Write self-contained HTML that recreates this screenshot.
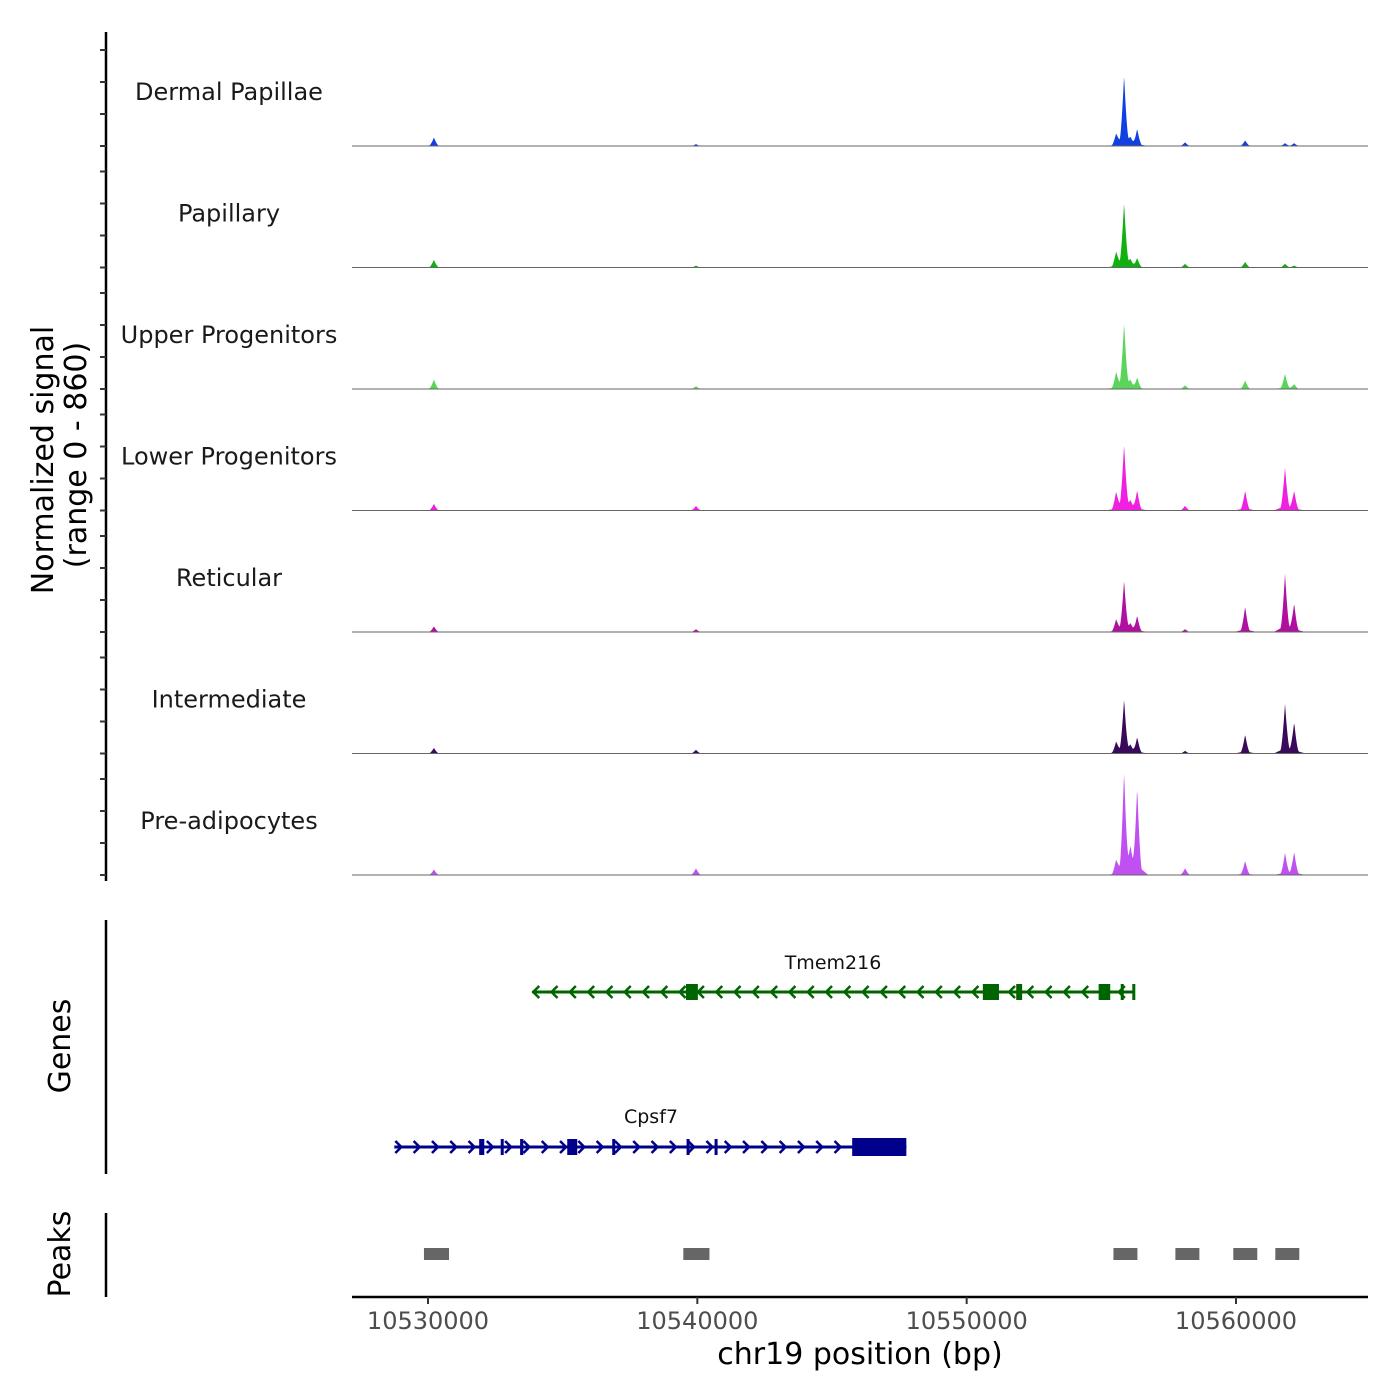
<!DOCTYPE html>
<html><head><meta charset="utf-8"><style>
html,body{margin:0;padding:0;background:#fff}
svg{display:block;font-family:"DejaVu Sans","Liberation Sans",sans-serif}
</style></head><body>
<svg id="chart" width="1400" height="1400" viewBox="0 0 1400 1400" xmlns="http://www.w3.org/2000/svg">
<g id="signal"></g>
<g id="genes"></g>
<g id="peaks"></g>
<g id="axes"></g>
</svg>
<script>
const trackNames = ["Dermal Papillae","Papillary","Upper Progenitors","Lower Progenitors","Reticular","Intermediate","Pre-adipocytes"];
const trackColors = ["#1040e0","#10b010","#5ad45a","#f020e0","#b010a0","#3a0a5a","#c050f0"];
const peakPositions = [10530220,10539950,10555550,10555845,10556080,10556330,10558110,10560340,10561820,10562160];
// heights (normalized units) per track at each peak position
const dermalValues = [64,14,78,524,40,127,28,42,21,21];
const papillaryValues = [57,14,106,481,40,70,28,42,28,14];
const upperValues = [71,21,113,489,45,85,28,64,113,35];
const lowerValues = [50,35,127,489,50,149,35,149,319,142];
const reticularValues = [42,21,85,382,45,120,21,191,432,205];
const intermediateValues = [42,28,78,403,45,120,20,142,368,227];
const preadipoValues = [42,50,92,765,156,651,50,106,163,170];
const seriesValues = [dermalValues,papillaryValues,upperValues,lowerValues,reticularValues,intermediateValues,preadipoValues];
const yMax = 860;
const xTicks = [10530000,10540000,10550000,10560000];
const peakRegions = [[10529850,10530780],[10539480,10540450],[10555450,10556340],[10557750,10558640],[10559900,10560790],[10561460,10562350]];
const tmemExons = [[10539580,10540020],[10550600,10551200],[10551840,10552060],[10554900,10555330],[10555720,10555780],[10556150,10556210]];
const tmemSpan = [10533870,10556210];
const cpsfExons = [[10531900,10532090],[10532700,10532780],[10533420,10533540],[10535170,10535540],[10536840,10536920],[10539600,10539680],[10540640,10540720],[10545750,10547760]];
const cpsfSpan = [10528750,10547760];

const NS="http://www.w3.org/2000/svg";
const X0=352,X1=1368;
const x=bp=>428+(bp-10530000)*808/30000;
const bpAt=px=>10530000+(px-428)*30000/808;
const trackH=121.5, base0=146;
const ySig=(v,i)=>base0+i*trackH - v/yMax*trackH;
function el(tag,attrs,parent,text){const e=document.createElementNS(NS,tag);for(const k in attrs)e.setAttribute(k,attrs[k]);if(text!==undefined)e.textContent=text;parent.appendChild(e);return e;}

const sg=document.getElementById('signal');
seriesValues.forEach((vals,i)=>{
  const b=base0+i*trackH;
  let d=`M${X0},${b}`;
  for(let px=X0;px<=X1;px+=0.5){
    const bp=bpAt(px);let s=0;
    peakPositions.forEach((p,j)=>{
      const v=vals[j];
      const t=1-Math.abs(bp-p)/170; if(t>0)s+=v*0.85*Math.pow(t,1.5);
      const u=1-Math.abs(bp-p)/420; if(u>0)s+=v*0.1*u;
    });
    d+=`L${px},${ySig(Math.min(s,yMax),i)}`;
  }
  d+=`L${X1},${b}Z`;
  const p=el('path',{d,fill:trackColors[i]},sg);
  
  
  const l=el('line',{x1:X0,x2:X1,y1:b,y2:b,stroke:'#666','stroke-width':1},sg);
  
  
  const t=el('text',{x:229,y:b-46,'text-anchor':'middle','font-size':24,fill:'#1a1a1a'},sg,trackNames[i]);
  
  
});

const gg=document.getElementById('genes');
function gene(span,exons,y,color,dir,name,labelY,labelX,bigIdx){
  const g=el('g',{},gg);
  
  
  el('line',{x1:x(span[0]),x2:x(span[1]),y1:y,y2:y,stroke:color,'stroke-width':3},g);
  for(let px=x(span[0])+4;px<x(span[1])-4;px+=18.3){
    const a=dir>0?`M${px-3},${y-6}L${px+3},${y}L${px-3},${y+6}`:`M${px+3},${y-6}L${px-3},${y}L${px+3},${y+6}`;
    el('path',{d:a,stroke:color,'stroke-width':2.5,fill:'none'},g);
  }
  exons.forEach((e,k)=>{const h=k===bigIdx?18:16;const w=Math.max(3,x(e[1])-x(e[0]));el('rect',{x:x(e[0]),y:y-h/2,width:w,height:h,fill:color},g);});
  el('text',{x:labelX,y:labelY,'text-anchor':'middle','font-size':19,fill:'#111'},g,name);
}
gene(tmemSpan,tmemExons,992,'#006400',-1,'Tmem216',969,833,-1);
gene(cpsfSpan,cpsfExons,1147,'#00008b',1,'Cpsf7',1123,651,7);

const pg=document.getElementById('peaks');
peakRegions.forEach(r=>{
  const rc=el('rect',{x:x(r[0]),y:1248,width:x(r[1])-x(r[0]),height:12,fill:'#666'},pg);
  
  
});

const ax=document.getElementById('axes');
el('line',{x1:106,x2:106,y1:32,y2:881,stroke:'#000','stroke-width':2.5},ax);
for(let i=0;i<7;i++)for(let k=0;k<4;k++){const y=base0+i*trackH-k*32;el('line',{x1:100,x2:106,y1:y,y2:y,stroke:'#333','stroke-width':2},ax);}
el('line',{x1:106,x2:106,y1:920,y2:1174,stroke:'#000','stroke-width':2.5},ax);
el('line',{x1:106,x2:106,y1:1213,y2:1297,stroke:'#000','stroke-width':2.5},ax);
el('line',{x1:X0,x2:X1,y1:1297,y2:1297,stroke:'#000','stroke-width':2.5},ax);
xTicks.forEach(t=>{
  el('line',{x1:x(t),x2:x(t),y1:1297,y2:1304,stroke:'#333','stroke-width':2},ax);
  const tx=el('text',{x:x(t),y:1329,'text-anchor':'middle','font-size':24,fill:'#4d4d4d'},ax,String(t));
  
  
});
const xt=el('text',{x:860,y:1364,'text-anchor':'middle','font-size':30,fill:'#000'},ax,'chr19 position (bp)');


const yt=el('text',{transform:'translate(53,460) rotate(-90)','text-anchor':'middle','font-size':30,fill:'#000'},ax,'Normalized signal');


const yt2=el('text',{transform:'translate(86,455) rotate(-90)','text-anchor':'middle','font-size':30,fill:'#000'},ax,'(range 0 - 860)');


const gt=el('text',{transform:'translate(70,1046) rotate(-90)','text-anchor':'middle','font-size':30,fill:'#000'},ax,'Genes');


const pt=el('text',{transform:'translate(70,1254) rotate(-90)','text-anchor':'middle','font-size':30,fill:'#000'},ax,'Peaks');


</script>
</body></html>
